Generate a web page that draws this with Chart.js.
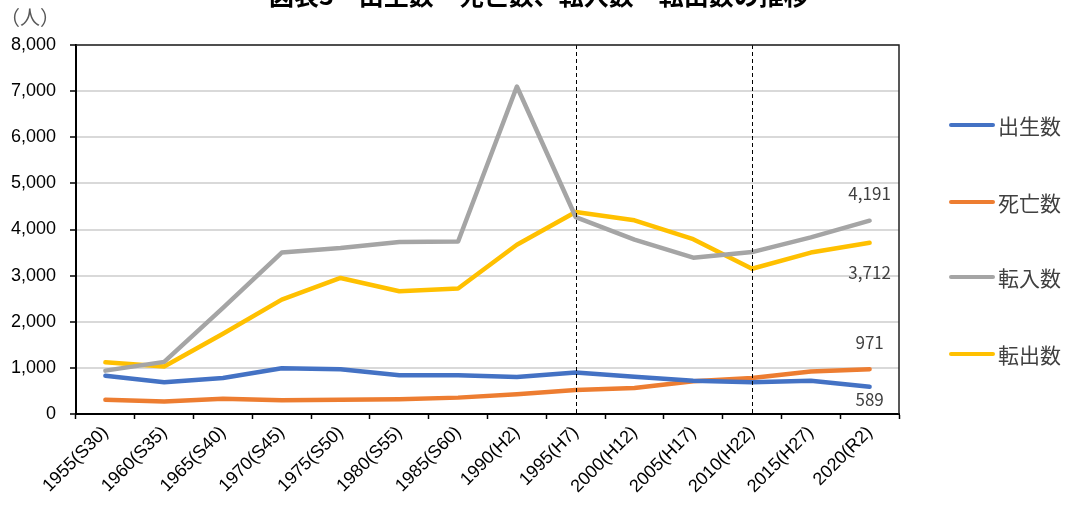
<!DOCTYPE html>
<html lang="ja">
<head>
<meta charset="utf-8">
<title>出生数・死亡数、転入数・転出数の推移</title>
<script src="https://cdn.jsdelivr.net/npm/chart.js@4.4.1/dist/chart.umd.min.js"></script>
<style>
  html, body { margin: 0; padding: 0; background: #fff; }
  #wrap { position: relative; width: 1066px; height: 506px; overflow: hidden; }
  #title {
    position: absolute; left: 0; width: 1078px; top: -18px; text-align: center;
    font: bold 25px "Noto Sans CJK JP", sans-serif; line-height: 25px; color: #000;
  }
  #unit {
    position: absolute; left: 0; top: 5px;
    font: 20px "Noto Sans CJK JP", sans-serif; line-height: 24px; color: #595959;
  }
  #legend { position: absolute; left: 949px; top: 0; }
  .item { position: absolute; left: 0; height: 24px; white-space: nowrap; }
  .item .swatch {
    position: absolute; left: 0; top: 10px; width: 46px; height: 4px; border-radius: 2px;
  }
  .item .text {
    position: absolute; left: 49px; top: 0;
    font: 21px "Noto Sans CJK JP", sans-serif; line-height: 24px; color: #404040;
  }
</style>
</head>
<body>
<div id="wrap">
  <canvas id="popChart"></canvas>
  <div id="title">図表3　出生数・死亡数、転入数・転出数の推移</div>
  <div id="unit">（人）</div>
  <div id="legend"></div>
</div>
<script>
const years = [
  '1955(S30)', '1960(S35)', '1965(S40)', '1970(S45)', '1975(S50)', '1980(S55)', '1985(S60)',
  '1990(H2)', '1995(H7)', '2000(H12)', '2005(H17)', '2010(H22)', '2015(H27)', '2020(R2)'
];
const births    = [830, 690, 780, 990, 970, 840, 840, 800, 900, 810, 720, 690, 720, 589];
const deaths    = [310, 270, 330, 300, 310, 320, 355, 430, 520, 565, 710, 780, 920, 971];
const movedIn   = [940, 1130, 2300, 3500, 3600, 3730, 3740, 7100, 4270, 3780, 3390, 3510, 3830, 4191];
const movedOut  = [1120, 1030, 1740, 2480, 2950, 2660, 2720, 3670, 4380, 4200, 3790, 3150, 3500, 3712];
const yTicks = [0, 1000, 2000, 3000, 4000, 5000, 6000, 7000, 8000];
const markerYears = ['1995(H7)', '2010(H22)'];

const series = [
  { label: '出生数', data: births,   color: '#4472C4', labelDy: 13 },
  { label: '死亡数', data: deaths,   color: '#ED7D31', labelDy: -27 },
  { label: '転入数', data: movedIn,  color: '#A5A5A5', labelDy: -27 },
  { label: '転出数', data: movedOut, color: '#FFC000', labelDy: 30 }
];

const fmt = (v) => Number(v).toLocaleString('en-US');

// dashed vertical markers, top/right frame, end-of-line value labels
const extras = {
  id: 'extras',
  afterDatasetsDraw(chart) {
    const { ctx, chartArea: a, scales } = chart;
    ctx.save();
    ctx.strokeStyle = '#000';
    ctx.lineWidth = 1;
    ctx.setLineDash([4, 3]);
    markerYears.forEach((yr) => {
      const x = Math.round(scales.x.getPixelForValue(years.indexOf(yr))) + 0.5;
      ctx.beginPath();
      ctx.moveTo(x, a.top);
      ctx.lineTo(x, a.bottom);
      ctx.stroke();
    });
    ctx.setLineDash([]);
    ctx.strokeStyle = '#222';
    ctx.lineWidth = 1.5;
    ctx.beginPath();
    ctx.moveTo(a.left, a.top);
    ctx.lineTo(a.right, a.top);
    ctx.lineTo(a.right, a.bottom);
    ctx.stroke();

    ctx.font = '17px "Noto Sans CJK JP", sans-serif';
    ctx.fillStyle = '#404040';
    ctx.textAlign = 'center';
    ctx.textBaseline = 'middle';
    chart.data.datasets.forEach((ds, i) => {
      const meta = chart.getDatasetMeta(i);
      const last = meta.data[meta.data.length - 1];
      ctx.fillText(fmt(ds.data[ds.data.length - 1]), last.x, last.y + series[i].labelDy);
    });
    ctx.restore();
  }
};

new Chart(document.getElementById('popChart'), {
  type: 'line',
  data: {
    labels: years,
    datasets: series.map((s) => ({
      label: s.label,
      data: s.data,
      borderColor: s.color,
      backgroundColor: s.color,
      borderWidth: 4.5,
      borderCapStyle: 'round',
      borderJoinStyle: 'round',
      pointRadius: 0,
      tension: 0
    }))
  },
  options: {
    responsive: true,
    maintainAspectRatio: false,
    animation: false,
    layout: { padding: { left: 0, top: 45, right: 167, bottom: 0 } },
    plugins: { legend: { display: false }, tooltip: { enabled: false } },
    scales: {
      x: {
        offset: true,
        grid: { offset: true, drawOnChartArea: false, tickLength: 5, tickColor: '#000', tickWidth: 1.5 },
        border: { color: '#000', width: 2 },
        ticks: {
          color: '#000',
          font: { family: '"Liberation Sans", Arial, sans-serif', size: 18 },
          minRotation: 45, maxRotation: 45, padding: 3, autoSkip: false
        },
        afterFit(scale) { scale.height = 92; }
      },
      y: {
        min: 0, max: 8000,
        afterBuildTicks(scale) { scale.ticks = yTicks.map((v) => ({ value: v })); },
        grid: { color: '#d9d9d9', lineWidth: 2, tickLength: 6, tickColor: '#000', tickWidth: 1.5 },
        border: { color: '#000', width: 2 },
        ticks: {
          color: '#000',
          padding: 14,
          font: { family: '"Liberation Sans", Arial, sans-serif', size: 18 },
          callback: (v) => fmt(v)
        },
        afterFit(scale) { scale.width = 76; }
      }
    }
  },
  plugins: [extras]
});

const legendTop = [113, 190, 265, 342];
const legend = document.getElementById('legend');
series.forEach((s, i) => {
  const item = document.createElement('div');
  item.className = 'item';
  item.style.top = legendTop[i] + 'px';
  item.innerHTML = `<span class="swatch" style="background:${s.color}"></span><span class="text">${s.label}</span>`;
  legend.appendChild(item);
});
</script>
</body>
</html>
